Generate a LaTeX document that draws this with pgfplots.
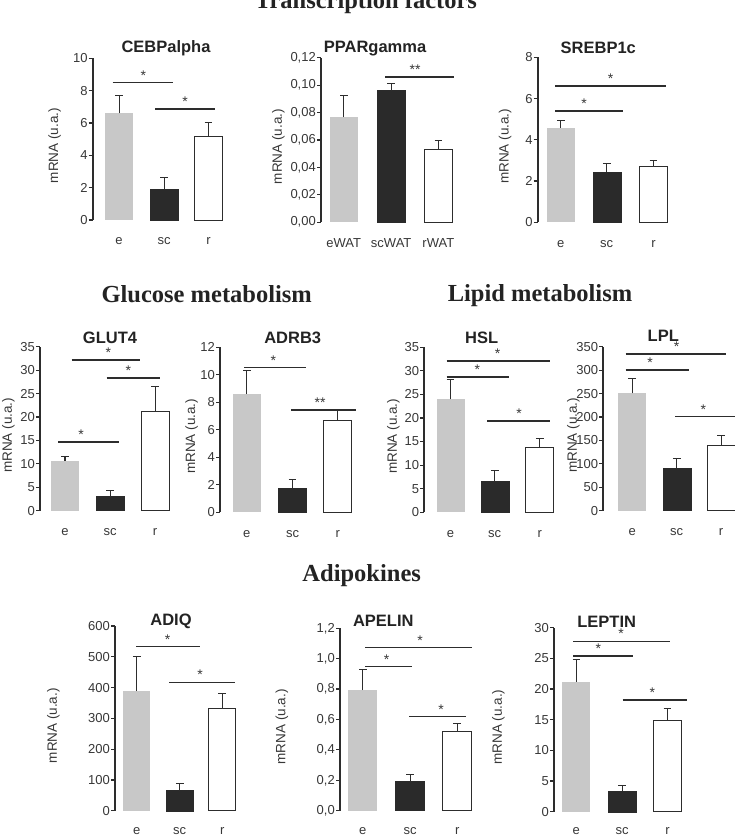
\documentclass[border=0pt]{standalone}
\usepackage{pgfplots}
\pgfplotsset{compat=1.18}
\usepackage{fontspec}
\setmainfont{Liberation Sans}
\newfontfamily\titlefont{Liberation Serif}
\definecolor{egray}{RGB}{200,200,200}
\definecolor{scdark}{RGB}{42,42,42}
\definecolor{axcol}{RGB}{45,45,45}
\definecolor{txtcol}{RGB}{55,55,55}
\definecolor{titcol}{RGB}{35,35,35}
\pgfplotsset{
  panel/.style={
    scale only axis, clip=false,
    axis y line=left, axis x line=bottom,
    x axis line style={draw=none},
    y axis line style={-, line width=1.8pt, draw=axcol},
    xmin=0, ymin=0,
    tick align=outside, major tick length=4pt,
    ytick style={line width=1.2pt, draw=axcol},
    xtick style={draw=none},
    ticklabel style={font=\fontsize{13}{15}\selectfont, text=txtcol},
    yticklabel style={inner sep=1pt},
    xticklabel style={anchor=base, yshift=-21pt},
    /pgf/number format/assume math mode=true,
    scaled y ticks=false,
    ylabel={mRNA (u.a.)},
    bar width=28pt,
    anchor=south west,
  },
  ylab/.style={every axis y label/.style={at={(axis description cs:0,0.46)}, xshift=-#1, rotate=90, anchor=center, font=\fontsize{13.5}{16}\selectfont, text=txtcol}},
  errs/.style={error bars/.cd, y dir=plus, y explicit, error mark=-, error bar style={line width=1pt, draw=axcol}, error mark options={rotate=90, line width=1pt, mark size=3.8pt, draw=axcol}},
  ebar/.style={ybar, bar shift=0pt, fill=egray, draw=none, errs},
  scbar/.style={ybar, bar shift=0pt, fill=scdark, draw=scdark, errs},
  rbar/.style={ybar, bar shift=0pt, fill=white, draw=axcol, line width=0.9pt, errs},
}
\tikzset{
  sig/.style={line width=1.6pt, draw=axcol},
  sstar/.style={anchor=base, yshift=2.5pt, inner sep=0pt, font=\fontsize{14}{15}\selectfont, text=txtcol},
  ptitle/.style={anchor=base, font=\bfseries\fontsize{16.5}{18}\selectfont, text=titcol},
  gtitle/.style={anchor=base, font=\titlefont\bfseries\fontsize{24.5}{28}\selectfont, text=titcol},
}
\begin{document}
\begin{tikzpicture}[x=1pt,y=1pt]
\useasboundingbox (0,0) rectangle (735,837);

% group titles
\node[gtitle] at (366,828) {Transcription factors};
\node[gtitle] at (206.7,534.7) {Glucose metabolism};
\node[gtitle] at (540,535) {Lipid metabolism};
\node[gtitle] at (361.7,255.3) {Adipokines};

% panel titles
\node[ptitle] at (166,784.3) {CEBPalpha};
\node[ptitle] at (375,784.3) {PPARgamma};
\node[ptitle] at (598.3,783.7) {SREBP1c};
\node[ptitle] at (110,493.7) {GLUT4};
\node[ptitle] at (292.7,493.7) {ADRB3};
\node[ptitle] at (481.7,493) {HSL};
\node[ptitle] at (663.3,495.3) {LPL};
\node[ptitle] at (171,211.3) {ADIQ};
\node[ptitle] at (383.3,210.3) {APELIN};
\node[ptitle] at (606.7,209.3) {LEPTIN};

% 1 CEBPalpha
\begin{axis}[panel, ylab=38pt, at={(92.7pt,617pt)}, width=140pt, height=161.7pt, xmax=140, ymax=10,
  ytick={0,2,4,6,8,10}, xtick={26.3,71.3,115.8}, xticklabels={e,sc,r}]
\addplot[ebar] coordinates {(26.3,6.6) +- (0,1.1)};
\addplot[scbar] coordinates {(71.3,1.9) +- (0,0.7)};
\addplot[rbar] coordinates {(115.8,5.15) +- (0,0.9)};
\draw[sig] (axis cs:20,8.5) -- (axis cs:80.6,8.5);
\node[sstar] at (axis cs:50.6,8.5) {*};
\draw[sig] (axis cs:62.3,6.85) -- (axis cs:122.3,6.85);
\node[sstar] at (axis cs:92.3,6.85) {*};
\end{axis}

% 2 PPARgamma
\begin{axis}[panel, ylab=42.7pt, at={(321pt,614.7pt)}, width=140pt, height=164.6pt, xmax=140, ymax=0.12,
  ytick={0,0.02,0.04,0.06,0.08,0.10,0.12},
  yticklabel style={/pgf/number format/.cd, fixed, fixed zerofill, precision=2, use comma},
  xtick={22.8,70.2,117.3}, xticklabels={eWAT,scWAT,rWAT}]
\addplot[ebar] coordinates {(22.8,0.0765) +- (0,0.0158)};
\addplot[scbar] coordinates {(70.2,0.096) +- (0,0.0053)};
\addplot[rbar] coordinates {(117.3,0.0534) +- (0,0.0064)};
\draw[sig] (axis cs:64,0.106) -- (axis cs:133.3,0.106);
\node[sstar] at (axis cs:94,0.106) {**};
\end{axis}

% 3 SREBP1c
\begin{axis}[panel, ylab=32.7pt, at={(537.7pt,614.7pt)}, width=140pt, height=165pt, xmax=140, ymax=8,
  ytick={0,2,4,6,8}, xtick={23.1,69,115.8}, xticklabels={e,sc,r}]
\addplot[ebar] coordinates {(23.1,4.59) +- (0,0.34)};
\addplot[scbar] coordinates {(69,2.42) +- (0,0.44)};
\addplot[rbar] coordinates {(115.8,2.71) +- (0,0.28)};
\draw[sig] (axis cs:17.3,6.61) -- (axis cs:128.3,6.61);
\node[sstar] at (axis cs:73,6.61) {*};
\draw[sig] (axis cs:17.3,5.40) -- (axis cs:85.6,5.40);
\node[sstar] at (axis cs:46.3,5.40) {*};
\end{axis}

% 4 GLUT4
\begin{axis}[panel, ylab=31.7pt, at={(40pt,326.3pt)}, width=135pt, height=164pt, xmax=135, ymax=35,
  ytick={0,5,...,35}, xtick={25,70,115}, xticklabels={e,sc,r}]
\addplot[ebar] coordinates {(25,10.67) +- (0,0.85)};
\addplot[scbar] coordinates {(70,2.99) +- (0,1.28)};
\addplot[rbar] coordinates {(115,21.1) +- (0,5.36)};
\draw[sig] (axis cs:31.7,32.1) -- (axis cs:100,32.1);
\node[sstar] at (axis cs:68.3,32.1) {*};
\draw[sig] (axis cs:66.7,28.3) -- (axis cs:120,28.3);
\node[sstar] at (axis cs:88.3,28.3) {*};
\draw[sig] (axis cs:18.3,14.6) -- (axis cs:79,14.6);
\node[sstar] at (axis cs:41,14.6) {*};
\end{axis}

% 5 ADRB3
\begin{axis}[panel, ylab=28.3pt, at={(220pt,324.7pt)}, width=138pt, height=165pt, xmax=138, ymax=12,
  ytick={0,2,4,6,8,10,12}, xtick={26.8,72.5,117.8}, xticklabels={e,sc,r}]
\addplot[ebar] coordinates {(26.8,8.6) +- (0,1.7)};
\addplot[scbar] coordinates {(72.5,1.75) +- (0,0.65)};
\addplot[rbar] coordinates {(117.8,6.71) +- (0,0.73)};
\draw[sig] (axis cs:24.3,10.52) -- (axis cs:86,10.52);
\node[sstar] at (axis cs:53.3,10.52) {*};
\draw[sig] (axis cs:71,7.44) -- (axis cs:136,7.44);
\node[sstar] at (axis cs:100,7.44) {**};
\end{axis}

% 6 HSL
\begin{axis}[panel, ylab=31pt, at={(424.3pt,324.7pt)}, width=135pt, height=165pt, xmax=135, ymax=35,
  ytick={0,5,...,35}, xtick={26.2,70.4,115.4}, xticklabels={e,sc,r}]
\addplot[ebar] coordinates {(26.2,23.97) +- (0,4.1)};
\addplot[scbar] coordinates {(70.4,6.5) +- (0,2.27)};
\addplot[rbar] coordinates {(115.4,13.72) +- (0,1.88)};
\draw[sig] (axis cs:22.4,32.1) -- (axis cs:125.7,32.1);
\node[sstar] at (axis cs:73.4,32.1) {*};
\draw[sig] (axis cs:22.4,28.64) -- (axis cs:85,28.64);
\node[sstar] at (axis cs:53,28.64) {*};
\draw[sig] (axis cs:63,19.38) -- (axis cs:125.7,19.38);
\node[sstar] at (axis cs:94.7,19.38) {*};
\end{axis}

% 7 LPL
\begin{axis}[panel, ylab=30pt, at={(603.3pt,326.3pt)}, width=131.7pt, height=164pt, xmax=131.7, ymax=350,
  ytick={0,50,...,350}, xtick={28.9,73.4,117.7}, xticklabels={e,sc,r}]
\addplot[ebar] coordinates {(28.9,250.4) +- (0,32)};
\addplot[scbar] coordinates {(73.4,90.3) +- (0,21.4)};
\addplot[rbar] coordinates {(117.7,140.1) +- (0,19.9)};
\draw[sig] (axis cs:22.4,334.5) -- (axis cs:122.7,334.5);
\node[sstar] at (axis cs:73.4,334.5) {*};
\draw[sig] (axis cs:22.4,300.4) -- (axis cs:86,300.4);
\node[sstar] at (axis cs:46.7,300.4) {*};
\draw[sig] (axis cs:71.7,200.6) -- (axis cs:131.7,200.6);
\node[sstar] at (axis cs:100,200.6) {*};
\end{axis}

% 8 ADIQ
\begin{axis}[panel, ylab=61.7pt, at={(115pt,26.3pt)}, width=135pt, height=184.7pt, xmax=135, ymax=600,
  bar width=27pt, xticklabel style={yshift=1pt},
  ytick={0,100,...,600}, xtick={21.7,64.7,107.2}, xticklabels={e,sc,r}]
\addplot[ebar] coordinates {(21.7,388.8) +- (0,111.6)};
\addplot[scbar] coordinates {(64.7,65) +- (0,23.8)};
\addplot[rbar] coordinates {(107.2,332.5) +- (0,48.7)};
\draw[sig] (axis cs:21,532.9) -- (axis cs:85,532.9);
\node[sstar] at (axis cs:52.7,532.9) {*};
\draw[sig] (axis cs:54.3,417) -- (axis cs:120.3,417);
\node[sstar] at (axis cs:85,417) {*};
\end{axis}

% 9 APELIN
\begin{axis}[panel, ylab=58pt, at={(340pt,26.3pt)}, width=135pt, height=182.4pt, xmax=135, ymax=1.2,
  bar width=29pt, xticklabel style={yshift=1pt},
  ytick={0,0.2,0.4,0.6,0.8,1.0,1.2},
  yticklabel style={/pgf/number format/.cd, fixed, fixed zerofill, precision=1, use comma},
  xtick={22.8,70,117.2}, xticklabels={e,sc,r}]
\addplot[ebar] coordinates {(22.8,0.794) +- (0,0.136)};
\addplot[scbar] coordinates {(70,0.191) +- (0,0.044)};
\addplot[rbar] coordinates {(117.2,0.522) +- (0,0.053)};
\draw[sig] (axis cs:25,1.073) -- (axis cs:131.7,1.073);
\node[sstar] at (axis cs:80,1.073) {*};
\draw[sig] (axis cs:25,0.948) -- (axis cs:72.3,0.948);
\node[sstar] at (axis cs:46.7,0.948) {*};
\draw[sig] (axis cs:69.3,0.619) -- (axis cs:125.7,0.619);
\node[sstar] at (axis cs:101,0.619) {*};
\end{axis}

% 10 LEPTIN
\begin{axis}[panel, ylab=55.7pt, at={(554pt,25.3pt)}, width=135pt, height=184pt, xmax=135, ymax=30,
  xticklabel style={yshift=2pt},
  ytick={0,5,...,30}, xtick={22.3,68,113.5}, xticklabels={e,sc,r}]
\addplot[ebar] coordinates {(22.3,21.2) +- (0,3.64)};
\addplot[scbar] coordinates {(68,3.37) +- (0,0.98)};
\addplot[rbar] coordinates {(113.5,14.95) +- (0,1.9)};
\draw[sig] (axis cs:19.3,27.77) -- (axis cs:116,27.77);
\node[sstar] at (axis cs:67,27.77) {*};
\draw[sig] (axis cs:19.3,25.38) -- (axis cs:79.3,25.38);
\node[sstar] at (axis cs:44.3,25.38) {*};
\draw[sig] (axis cs:68.7,18.2) -- (axis cs:132.7,18.2);
\node[sstar] at (axis cs:98.3,18.2) {*};
\end{axis}
\end{tikzpicture}
\end{document}
